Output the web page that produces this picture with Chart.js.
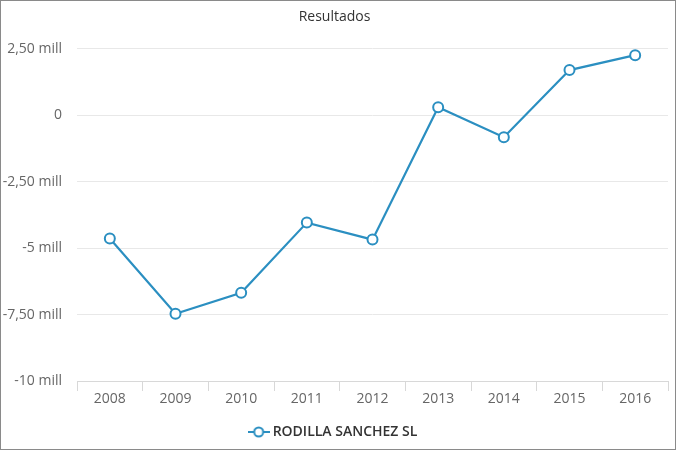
<!DOCTYPE html>
<html>
<head>
<meta charset="utf-8">
<script src="https://cdn.jsdelivr.net/npm/chart.js@4/dist/chart.umd.min.js"></script>
<style>
  html, body { margin: 0; padding: 0; background: #fff; }
  #wrap { width: 676px; height: 450px; box-sizing: border-box; border: 1px solid #8a8a8a; position: relative; }
</style>
</head>
<body>
<div id="wrap"><canvas id="chartCanvas"></canvas></div>
<script>
const years = ['2008', '2009', '2010', '2011', '2012', '2013', '2014', '2015', '2016'];
const resultados = [-4640000, -7470000, -6680000, -4040000, -4680000, 300000, -830000, 1700000, 2260000];
const empresa = 'RODILLA SANCHEZ SL';
const azul = '#2b8fc1';

// icono de la leyenda: linea con circulo
function legendIcon() {
    const c = document.createElement('canvas');
    c.width = 22; c.height = 14;
    const ctx = c.getContext('2d');
    ctx.strokeStyle = azul;
    ctx.lineWidth = 2;
    ctx.beginPath(); ctx.moveTo(0, 7); ctx.lineTo(22, 7); ctx.stroke();
    ctx.fillStyle = '#fff';
    ctx.beginPath(); ctx.arc(11, 7, 4.5, 0, Math.PI * 2); ctx.fill(); ctx.stroke();
    return c;
}

function formatMill(v) {
    if (v === 0) return '0';
    const m = v / 1000000;
    const txt = Number.isInteger(m) ? String(m) : m.toFixed(2).replace('.', ',');
    return txt + ' mill';
}

Chart.defaults.font.family = '"Open Sans", "DejaVu Sans", sans-serif';
Chart.defaults.font.size = 14;

let chart = new Chart(document.getElementById('chartCanvas'), {
    type: 'line',
    data: {
        labels: years,
        datasets: [{
            label: empresa,
            data: resultados,
            borderColor: azul,
            backgroundColor: '#fff',
            borderWidth: 2.2,
            pointRadius: 5,
            pointBorderWidth: 2,
            pointBackgroundColor: '#fff',
            pointBorderColor: azul,
            pointStyle: 'circle',
            tension: 0,
            fill: false
        }]
    },
    options: {
        responsive: true,
        maintainAspectRatio: false,
        animation: false,
        layout: { padding: { left: 0, right: 7, top: 4, bottom: 0 } },
        plugins: {
            title: {
                display: true,
                text: 'Resultados',
                color: '#333',
                font: { size: 14, weight: 'normal' },
                padding: { top: 4, bottom: 23 }
            },
            legend: {
                position: 'bottom',
                labels: {
                    usePointStyle: true,
                    pointStyle: legendIcon(),
                    color: '#333',
                    font: { size: 14, weight: '600' },
                    padding: 13
                }
            },
            tooltip: { enabled: false }
        },
        scales: {
            x: {
                offset: true,
                grid: {
                    offset: true,
                    drawOnChartArea: false,
                    drawTicks: true,
                    tickLength: 10,
                    color: '#d8d8d8'
                },
                border: { display: true, color: '#d8d8d8' },
                ticks: { color: '#666', padding: 0 },
                afterFit: function (s) { s.height = 31; }
            },
            y: {
                min: -10000000,
                max: 2500000,
                afterFit: function (s) { s.width = 76; },
                grid: { color: '#e8e8e8', drawTicks: false },
                border: { display: false },
                ticks: {
                    stepSize: 2500000,
                    color: '#666',
                    padding: 15,
                    callback: function (v) { return formatMill(v); }
                }
            }
        }
    }
});
</script>
</body>
</html>
